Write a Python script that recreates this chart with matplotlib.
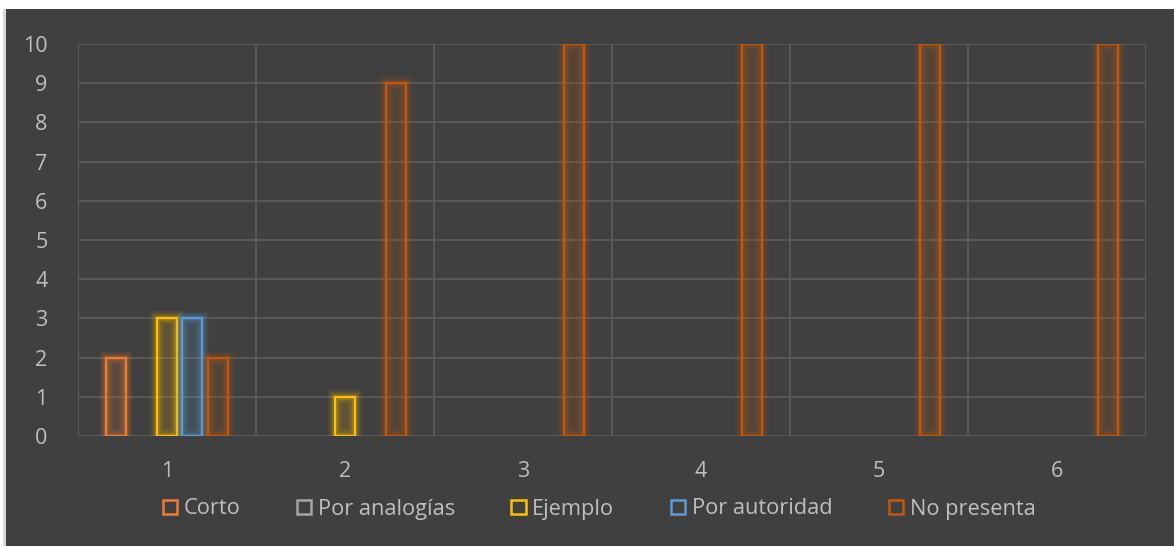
import matplotlib.pyplot as plt
import matplotlib.patheffects as pe
from matplotlib.patches import Patch, Rectangle
import numpy as np

plt.rcParams['font.family'] = ['Open Sans', 'DejaVu Sans']

categories = ['1', '2', '3', '4', '5', '6']
series_names = ['Corto', 'Por analogías', 'Ejemplo', 'Por autoridad', 'No presenta']
corto = [2, 0, 0, 0, 0, 0]
por_analogias = [0, 0, 0, 0, 0, 0]
ejemplo = [3, 1, 0, 0, 0, 0]
por_autoridad = [3, 0, 0, 0, 0, 0]
no_presenta = [2, 9, 10, 10, 10, 10]
colors = ['#ED7D31', '#A5A5A5', '#FFC000', '#5B9BD5', '#C0590F']

bg = '#404040'
grid_c = '#595959'
text_c = '#BFBFBF'

fig = plt.figure(figsize=(11.74, 5.46), dpi=100, facecolor='white')
# dark panel with a thin light border on the left
fig.patches.append(Rectangle((3 / 1174, 0), 3 / 1174, 537 / 546,
                             transform=fig.transFigure, facecolor='#D9D9D9',
                             edgecolor='none', zorder=-2))
fig.patches.append(Rectangle((6 / 1174, 0), 1 - 6 / 1174, 537 / 546,
                             transform=fig.transFigure, facecolor=bg,
                             edgecolor='none', zorder=-1))

ax = fig.add_axes([78 / 1174, 110 / 546, 1068 / 1174, 392 / 546])
ax.set_facecolor('none')

x = np.arange(len(categories))
step = 0.143
width = 0.112
all_series = [corto, por_analogias, ejemplo, por_autoridad, no_presenta]

for i, (vals, col) in enumerate(zip(all_series, colors)):
    offs = (i - 2) * step
    # faint tinted fill
    fills = ax.bar(x + offs, vals, width, facecolor=col, alpha=0.16,
                   edgecolor='none', zorder=2)
    # outline with a soft glow
    bars = ax.bar(x + offs, vals, width, facecolor='none', edgecolor=col,
                  linewidth=1.6, zorder=3)
    for f, b, v in zip(fills, bars, vals):
        if v == 0:
            f.set_visible(False)
            b.set_visible(False)
        b.set_path_effects([
            pe.Stroke(linewidth=10, foreground=col, alpha=0.07),
            pe.Stroke(linewidth=7, foreground=col, alpha=0.12),
            pe.Stroke(linewidth=4, foreground=col, alpha=0.2),
            pe.Normal(),
        ])

ax.set_xlim(-0.5, len(categories) - 0.5)
ax.set_ylim(0, 10)
ax.set_yticks(range(0, 11))
ax.set_xticks(x)
ax.set_xticklabels(categories)

for yv in range(0, 11):
    ax.axhline(yv, color=grid_c, linewidth=1.4, zorder=1)
for xv in np.arange(-0.5, len(categories), 1.0):
    ax.axvline(xv, color=grid_c, linewidth=1.4, zorder=1)

for s in ax.spines.values():
    s.set_visible(False)
ax.tick_params(axis='both', length=0, colors=text_c, labelsize=15.5)
ax.tick_params(axis='y', pad=22)
ax.tick_params(axis='x', pad=18)

handles = [Patch(facecolor='none', edgecolor=c, linewidth=1.8) for c in colors]
leg = fig.legend(handles, series_names, loc='center', ncol=5,
                 bbox_to_anchor=(599 / 1174, 1 - 509 / 546), frameon=False,
                 fontsize=15.7, labelcolor=text_c, handlelength=0.65,
                 handleheight=0.65, handletextpad=0.3, columnspacing=2.6)

fig.savefig('out.png', dpi=100, facecolor='white')
